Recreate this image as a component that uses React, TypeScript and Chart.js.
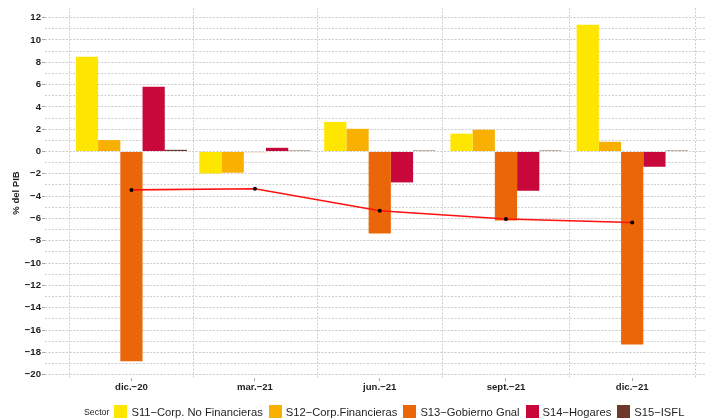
import React, { useEffect, useRef } from 'react';
import { Chart, registerables } from 'chart.js';

Chart.register(...registerables);

// ---- Data ----
const categories = ['dic.−20', 'mar.−21', 'jun.−21', 'sept.−21', 'dic.−21'];
const periodDates = ['2020-12-31', '2021-03-31', '2021-06-30', '2021-09-30', '2021-12-31'];

const sectorNames = [
  'S11−Corp. No Financieras',
  'S12−Corp.Financieras',
  'S13−Gobierno Gnal',
  'S14−Hogares',
  'S15−ISFL',
];
const sectorColors = ['#FFE600', '#F9B000', '#EB6608', '#C8073B', '#6B3A2A'];

const s11CorpNoFin = [8.5, -1.97, 2.65, 1.6, 11.35];
const s12CorpFin = [1.02, -1.9, 2.03, 1.95, 0.87];
const s13Gobierno = [-18.8, -0.06, -7.35, -6.18, -17.3];
const s14Hogares = [5.8, 0.33, -2.77, -3.52, -1.37];
const s15Isfl = [0.15, 0.08, 0.08, 0.08, 0.08];
const totalBalance = [-3.44, -3.34, -5.31, -6.05, -6.36];

const yTickValues = [-20, -18, -16, -14, -12, -10, -8, -6, -4, -2, 0, 2, 4, 6, 8, 10, 12];
const yMinorValues = [
  -20, -19, -18, -17, -16, -15, -14, -13, -12, -11, -10, -9, -8, -7, -6, -5, -4, -3, -2, -1,
  0, 1, 2, 3, 4, 5, 6, 7, 8, 9, 10, 11, 12,
];

const legendTitle = 'Sector';
const yAxisTitle = '% del PIB';

// ---- Derived ----
const DAY = 86400000;
const dayPos = periodDates.map((d) => (Date.parse(d) - Date.parse(periodDates[0])) / DAY);
const gridDays = (() => {
  const out: number[] = [];
  out.push(dayPos[0] - (dayPos[1] - dayPos[0]) / 2);
  for (let i = 0; i < dayPos.length - 1; i++) out.push((dayPos[i] + dayPos[i + 1]) / 2);
  const n = dayPos.length;
  out.push(dayPos[n - 1] + (dayPos[n - 1] - dayPos[n - 2]) / 2);
  return out;
})();

const FONT = "'Liberation Sans', Arial, Helvetica, sans-serif";
const TEXT = '#1f1f1f';
const GRID = '#cfcfcf';
const X_MIN = -63;
const X_MAX = 418.8;
const Y_MIN = -20.3;
const Y_MAX = 12.86;

export default function App() {
  const ref = useRef<HTMLCanvasElement | null>(null);

  useEffect(() => {
    if (!ref.current) return;
    const series = [s11CorpNoFin, s12CorpFin, s13Gobierno, s14Hogares, s15Isfl];
    const chart = new Chart(ref.current, {
      type: 'bar',
      data: {
        datasets: [
          {
            type: 'line',
            label: 'Total',
            data: dayPos.map((x, i) => ({ x, y: totalBalance[i] })),
            borderColor: '#ff1010',
            borderWidth: 1.6,
            pointRadius: 2,
            pointBackgroundColor: '#000',
            pointBorderColor: '#000',
            pointBorderWidth: 0,
            tension: 0,
            order: 0,
            xAxisID: 'x',
            yAxisID: 'y',
          } as any,
          ...series.map((vals, k) => ({
            type: 'bar',
            label: sectorNames[k],
            data: dayPos.map((x, i) => ({ x, y: vals[i] })),
            backgroundColor: sectorColors[k],
            borderWidth: 0,
            categoryPercentage: 0.9,
            barPercentage: 1,
            order: 1,
            xAxisID: 'x',
            yAxisID: 'y',
          })),
        ],
      },
      options: {
        animation: false,
        responsive: false,
        maintainAspectRatio: false,
        layout: { padding: { top: 8, left: 0, right: 0, bottom: 0 } },
        plugins: { legend: { display: false }, tooltip: { enabled: false } },
        scales: {
          x: {
            type: 'linear',
            position: 'bottom',
            min: X_MIN,
            max: X_MAX,
            offset: false,
            afterBuildTicks: (s: any) => {
              s.ticks = dayPos.map((v) => ({ value: v }));
            },
            afterFit: (s: any) => {
              s.height = 41;
            },
            ticks: {
              autoSkip: false,
              maxRotation: 0,
              padding: 1,
              color: TEXT,
              font: { family: FONT, size: 9.6, weight: 'bold' },
              callback: (_v: any, i: number) => categories[i],
            },
            grid: {
              display: true,
              offset: false,
              drawOnChartArea: false,
              drawTicks: true,
              tickLength: 3,
              tickColor: '#a8a8a8',
            },
            border: { display: false },
          },
          x2: {
            type: 'linear',
            position: 'top',
            min: X_MIN,
            max: X_MAX,
            offset: false,
            afterBuildTicks: (s: any) => {
              s.ticks = gridDays.map((v) => ({ value: v }));
            },
            afterFit: (s: any) => {
              s.height = 0;
            },
            ticks: { display: false },
            grid: {
              display: true,
              offset: false,
              drawOnChartArea: true,
              drawTicks: false,
              color: GRID,
              lineWidth: 1,
            },
            border: { display: false, dash: [2, 1.5] },
          },
          y: {
            type: 'linear',
            position: 'left',
            min: Y_MIN,
            max: Y_MAX,
            afterBuildTicks: (s: any) => {
              s.ticks = yTickValues.map((v) => ({ value: v }));
            },
            afterFit: (s: any) => {
              s.width = 45;
            },
            ticks: {
              padding: 1,
              color: TEXT,
              font: { family: FONT, size: 9.6, weight: 'bold' },
              callback: (v: any) => (v < 0 ? '−' + Math.abs(v) : String(v)),
            },
            grid: {
              display: true,
              drawOnChartArea: true,
              drawTicks: true,
              tickLength: 3,
              color: GRID,
              tickColor: '#a8a8a8',
            },
            border: { display: false, dash: [2, 1.5] },
            title: {
              display: true,
              text: yAxisTitle,
              color: TEXT,
              font: { family: FONT, size: 9.5, weight: 'bold' },
              padding: { top: 11, bottom: 0 },
            },
          },
          y2: {
            type: 'linear',
            position: 'right',
            min: Y_MIN,
            max: Y_MAX,
            afterBuildTicks: (s: any) => {
              s.ticks = yMinorValues.map((v) => ({ value: v }));
            },
            afterFit: (s: any) => {
              s.width = 0;
            },
            ticks: { display: false },
            grid: {
              display: true,
              drawOnChartArea: true,
              drawTicks: false,
              color: GRID,
            },
            border: { display: false, dash: [2, 1.5] },
          },
        },
      } as any,
    });
    return () => chart.destroy();
  }, []);

  return (
    <div
      style={{
        position: 'absolute',
        left: 0,
        top: 0,
        width: 710,
        height: 419,
        background: '#fff',
        overflow: 'hidden',
      }}
    >
      <canvas ref={ref} width={710} height={419} style={{ display: 'block', width: 710, height: 419 }} />
      <div
        style={{
          position: 'absolute',
          left: 84,
          top: 404,
          height: 15,
          display: 'flex',
          alignItems: 'center',
          fontFamily: FONT,
          color: TEXT,
          whiteSpace: 'nowrap',
        }}
      >
        <span style={{ fontSize: 8.8, marginRight: 5 }}>{legendTitle}</span>
        {sectorNames.map((name, k) => (
          <span key={name} style={{ display: 'flex', alignItems: 'center' }}>
            <span
              style={{
                display: 'inline-block',
                width: 13,
                height: 13,
                background: sectorColors[k],
                marginRight: 4,
              }}
            />
            <span style={{ fontSize: 11.2, marginRight: 6 }}>{name}</span>
          </span>
        ))}
      </div>
    </div>
  );
}
